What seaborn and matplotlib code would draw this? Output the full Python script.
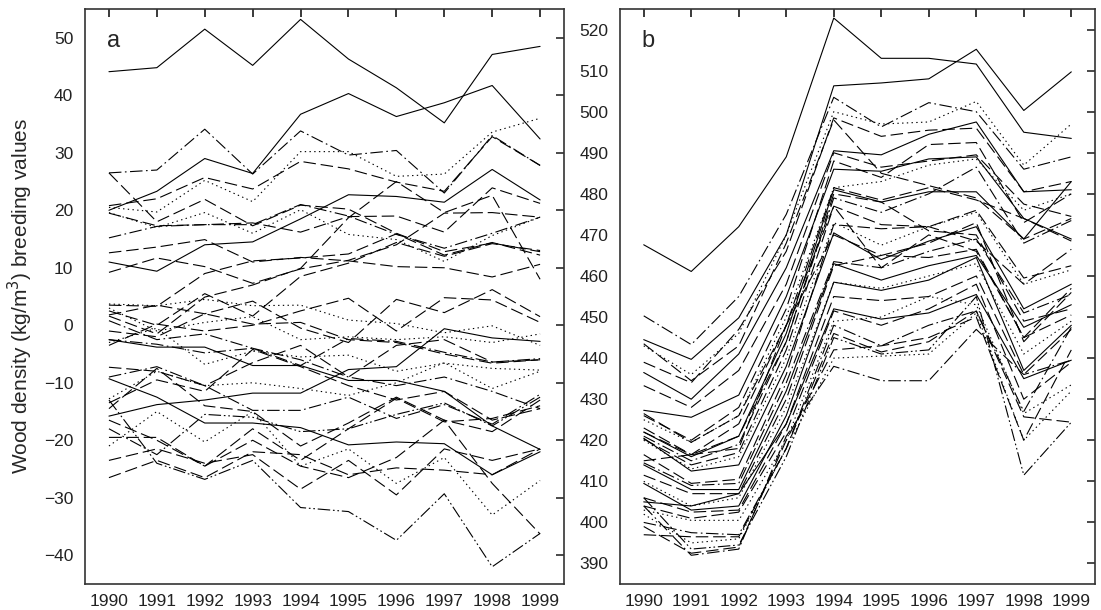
import matplotlib

matplotlib.use("Agg")

import matplotlib.pyplot as plt
import pandas as pd
import seaborn as sns

YEARS = list(range(1990, 2000))

# panel a: breeding values, one row per tree (style, 1990..1999)
PANEL_A = [
    ("solid", [44.1, 44.8, 51.5, 45.2, 53.2, 46.3, 41.3, 35.2, 47.1, 48.5]),
    ("solid", [20.0, 23.3, 29.0, 26.4, 36.7, 40.3, 36.3, 38.7, 41.7, 32.4]),
    ("solid", [11.0, 9.4, 14.0, 14.5, 18.5, 22.7, 22.4, 21.4, 27.1, 21.8]),
    ("dashdot", [26.5, 27.0, 34.1, 26.3, 33.8, 29.6, 30.4, 23.0, 33.0, 27.8]),
    ("dotted", [20.5, 19.7, 25.2, 21.5, 30.2, 30.2, 25.9, 26.3, 33.6, 36.0]),
    ("dashed", [26.5, 18.0, 21.9, 17.3, 20.9, 20.2, 16.0, 12.8, 14.3, 12.8]),
    ("dashed", [20.8, 22.0, 25.7, 23.7, 28.5, 27.2, 24.9, 23.3, 32.8, 27.8]),
    ("dashed", [19.5, 17.3, 17.5, 17.8, 16.2, 18.9, 19.0, 16.2, 23.9, 21.2]),
    ("dashdot", [15.2, 17.2, 17.5, 17.5, 21.0, 19.0, 15.8, 13.4, 16.0, 18.8]),
    ("dashed", [12.6, 13.6, 14.9, 11.0, 11.8, 11.2, 10.2, 10.0, 8.4, 10.6]),
    ("dashed", [9.2, 11.7, 10.2, 7.3, 9.8, 11.3, 14.0, 19.5, 19.6, 18.8]),
    ("dotted", [19.6, 17.0, 19.6, 16.0, 20.1, 15.8, 14.9, 11.1, 15.6, 18.8]),
    ("dashed", [3.5, 3.3, 9.0, 11.2, 11.7, 12.4, 15.9, 12.2, 14.4, 12.2]),
    ("dotted", [3.7, 3.4, 4.5, 3.4, 3.5, 0.9, 0.3, -1.3, -0.1, -3.5]),
    ("dashed", [1.6, -1.5, 4.9, 7.0, 9.9, 18.7, 25.0, 19.6, 22.6, 8.0]),
    ("dashed", [2.5, 0.0, 5.5, 1.6, 8.5, 10.8, 14.4, 12.0, 14.2, 13.0]),
    ("dashdot", [-2.5, -3.3, -4.8, -4.0, -7.0, -2.3, -2.8, -4.7, -6.4, -5.8]),
    ("solid", [-2.5, -3.8, -3.8, -7.0, -7.0, -9.6, -9.6, -11.5, -17.5, -21.6]),
    ("solid", [-15.8, -13.8, -13.0, -11.8, -11.8, -7.7, -7.2, -0.6, -2.2, -2.8]),
    ("solid", [-9.3, -12.5, -17.0, -17.0, -17.8, -20.8, -20.3, -20.6, -26.0, -22.0]),
    ("dashed", [-7.3, -8.0, -10.5, -6.5, -3.5, -9.0, -3.5, -2.5, -6.4, -6.0]),
    ("dashed", [-1.0, -2.0, 2.0, 0.2, 0.5, -2.5, -3.0, -5.0, -6.6, -6.0]),
    ("dashed", [-3.5, 0.2, -1.0, 0.0, 2.5, 4.7, -1.0, 4.8, 4.4, 0.5]),
    ("dotted", [-3.0, -0.5, -6.8, -4.5, -5.5, -5.2, -8.0, -6.6, -7.5, -7.8]),
    ("dashdot", [-9.0, -7.2, -10.5, -14.8, -14.8, -12.5, -16.2, -13.8, -17.2, -12.0]),
    ("dashed", [-13.5, -9.5, -11.5, -4.2, -7.2, -10.5, -13.0, -11.5, -16.5, -14.5]),
    ("dotted", [-12.8, -8.0, -10.5, -10.0, -11.0, -12.2, -10.0, -6.5, -11.0, -8.0]),
    ("dashed", [-14.5, -7.5, -14.0, -15.0, -21.0, -17.0, -12.5, -16.5, -18.5, -13.0]),
    ("dashdotdot", [-18.0, -22.5, -15.5, -16.0, -18.5, -18.0, -15.5, -13.5, -17.5, -12.5]),
    ("dotted", [-21.0, -15.0, -20.3, -15.0, -24.5, -21.5, -27.5, -23.0, -33.0, -27.0]),
    ("dashed", [-19.5, -19.5, -24.5, -20.0, -24.5, -26.5, -23.0, -16.5, -27.5, -36.3]),
    ("dashed", [-23.5, -21.5, -24.0, -22.5, -28.5, -23.5, -29.5, -21.5, -23.5, -21.5]),
    ("dashed", [-26.5, -23.5, -26.5, -22.0, -22.5, -26.0, -24.8, -25.2, -26.0, -21.5]),
    ("dashdotdot", [-13.0, -24.0, -26.8, -23.5, -31.7, -32.4, -37.4, -29.3, -42.0, -36.2]),
    ("dashed", [-16.5, -20.0, -24.5, -18.0, -23.5, -18.0, -12.7, -16.8, -16.2, -14.0]),
    ("dashed", [1.8, 3.5, 2.0, 4.2, -0.5, -3.0, 4.5, 2.2, 6.2, 1.5]),
    ("dashdot", [0.8, -2.5, -1.5, -4.0, -6.0, -9.0, -10.5, -9.0, -11.5, -14.5]),
    ("dotted", [3.0, -1.0, 0.5, 1.5, -2.5, -2.0, -2.5, -2.0, -3.0, -1.5]),
]

# panel b: wood density values
PANEL_B = [
    ("solid", [467.6, 461.1, 472.0, 489.0, 522.8, 513.0, 513.0, 511.6, 495.0, 493.5]),
    ("solid", [444.5, 439.7, 449.8, 470.0, 506.3, 507.0, 508.0, 515.2, 500.3, 509.7]),
    ("dashdot", [450.3, 443.3, 455.0, 475.0, 503.5, 496.3, 502.2, 500.0, 486.0, 489.0]),
    ("dotted", [443.0, 436.0, 446.0, 470.0, 500.0, 497.0, 497.5, 502.5, 487.0, 497.0]),
    ("dashed", [439.0, 434.0, 447.0, 466.0, 498.5, 494.0, 495.5, 496.0, 480.5, 483.0]),
    ("solid", [436.5, 430.0, 441.0, 462.0, 490.5, 489.5, 494.5, 497.5, 480.5, 481.0]),
    ("dashed", [433.3, 428.0, 437.0, 458.0, 490.0, 486.5, 488.0, 489.5, 477.5, 474.5]),
    ("solid", [427.3, 425.6, 431.0, 455.0, 486.0, 485.5, 488.5, 489.0, 474.0, 469.0]),
    ("dashed", [426.0, 420.0, 428.0, 452.0, 488.0, 484.0, 492.0, 492.5, 473.0, 480.0]),
    ("dotted", [425.0, 419.5, 426.0, 450.0, 481.5, 483.0, 487.0, 488.5, 476.0, 480.0]),
    ("dashed", [423.0, 416.5, 424.0, 448.0, 481.5, 478.5, 481.5, 478.5, 474.0, 468.5]),
    ("solid", [422.0, 416.0, 421.0, 446.0, 481.0, 478.0, 480.5, 480.5, 469.0, 483.0]),
    ("dashdot", [421.0, 415.0, 419.0, 444.0, 479.0, 475.5, 480.0, 486.5, 468.0, 473.5]),
    ("dashed", [420.3, 414.0, 417.0, 442.0, 477.0, 472.5, 472.0, 476.0, 459.5, 462.5]),
    ("dotted", [420.0, 413.0, 416.0, 440.0, 473.0, 467.5, 472.0, 475.5, 458.0, 461.5]),
    ("solid", [420.5, 412.5, 414.0, 438.0, 470.5, 464.0, 468.5, 472.0, 452.0, 458.0]),
    ("dashed", [416.5, 409.5, 410.5, 436.0, 472.5, 471.5, 472.0, 468.5, 458.0, 466.5]),
    ("dashdot", [414.5, 409.0, 409.5, 434.0, 463.5, 462.0, 466.0, 469.0, 451.0, 455.5]),
    ("solid", [414.0, 408.0, 408.0, 432.0, 463.0, 459.0, 462.5, 465.0, 447.5, 453.0]),
    ("dashed", [411.5, 407.0, 407.0, 430.0, 462.5, 465.0, 464.5, 466.5, 445.0, 450.5]),
    ("dotted", [410.0, 404.0, 406.0, 428.0, 458.5, 457.0, 460.0, 463.0, 441.0, 449.0]),
    ("solid", [409.5, 403.0, 404.0, 426.0, 458.5, 456.5, 459.0, 464.5, 437.0, 448.0]),
    ("dashed", [406.0, 402.5, 403.0, 424.0, 455.0, 454.0, 455.0, 460.0, 436.0, 447.0]),
    ("solid", [405.0, 404.0, 407.0, 424.0, 452.0, 449.5, 451.0, 455.5, 435.0, 439.5]),
    ("dashed", [404.0, 401.0, 402.5, 422.0, 451.5, 448.0, 452.0, 458.0, 430.0, 439.0]),
    ("dotted", [403.0, 400.5, 400.5, 420.0, 449.0, 450.0, 455.0, 453.0, 426.5, 433.5]),
    ("dashdot", [400.0, 397.5, 397.0, 418.0, 448.0, 443.0, 448.0, 451.5, 427.0, 447.5]),
    ("dashed", [397.0, 396.5, 396.5, 418.0, 446.0, 441.5, 444.0, 451.5, 425.7, 424.4]),
    ("dashdotdot", [406.0, 393.5, 394.5, 416.0, 445.0, 441.0, 442.0, 455.0, 411.5, 424.4]),
    ("dashed", [399.0, 392.5, 394.0, 420.0, 442.0, 443.0, 445.0, 450.0, 420.0, 442.0]),
    ("dashdot", [404.0, 392.0, 393.5, 421.0, 438.0, 434.5, 434.5, 447.0, 436.0, 439.5]),
    ("dotted", [402.0, 395.0, 396.0, 418.0, 440.0, 440.5, 441.0, 451.0, 420.0, 432.0]),
    ("dashed", [426.5, 419.5, 426.0, 448.0, 470.0, 465.0, 468.0, 473.0, 444.0, 456.0]),
    ("dashed", [415.0, 416.5, 421.0, 444.0, 480.0, 478.0, 471.0, 470.0, 449.0, 452.0]),
    ("dashed", [422.0, 416.5, 418.0, 448.0, 477.0, 462.0, 470.0, 466.0, 445.0, 457.0]),
    ("dashed", [443.5, 434.5, 443.0, 468.0, 498.0, 485.0, 482.0, 479.0, 469.0, 474.0]),
]

DASHES = {
    "solid": "",
    "dashed": (9, 3.5),
    "dashdot": (9, 2.5, 1.2, 2.5),
    "dashdotdot": (9, 2, 1.2, 2, 1.2, 2),
    "dotted": (1, 2.4),
}


def to_long(rows):
    records = []
    for i, (kind, values) in enumerate(rows):
        for year, value in zip(YEARS, values):
            records.append({"line": i, "kind": kind, "year": year, "value": value})
    return pd.DataFrame(records)


def style_axis(ax, ylim, yticks, label):
    ax.set_xlim(1989.5, 1999.5)
    ax.set_ylim(*ylim)
    ax.set_xticks(YEARS)
    ax.set_yticks(yticks)
    ax.set_xlabel("")
    ax.set_ylabel("")
    ax.tick_params(axis="x", direction="in", top=True, length=6, labelsize=12.5,
                   pad=7, colors="#222222")
    ax.tick_params(axis="y", direction="inout", right=False, length=10,
                   labelsize=12.5, colors="#222222")
    for spine in ax.spines.values():
        spine.set_visible(True)
        spine.set_linewidth(1.2)
        spine.set_color("#333333")
    # inward ticks on the right spine
    sec = ax.secondary_yaxis("right")
    sec.set_yticks(yticks)
    sec.tick_params(direction="in", length=6, labelright=False, colors="#333333")
    sec.spines["right"].set_visible(False)
    ax.text(0.045, 0.945, label, transform=ax.transAxes, fontsize=17,
            ha="left", va="center")


def main() -> None:
    sns.set_theme(style="white")
    plt.rcParams["font.family"] = ["Liberation Sans", "DejaVu Sans"]
    plt.rcParams["lines.scale_dashes"] = False

    fig = plt.figure(figsize=(11.01, 6.10), dpi=100)
    ax_a = fig.add_axes([0.0772, 0.0426, 0.4351, 0.9426])
    ax_b = fig.add_axes([0.5631, 0.0426, 0.4315, 0.9426])

    for ax, rows in ((ax_a, PANEL_A), (ax_b, PANEL_B)):
        sns.lineplot(
            data=to_long(rows), x="year", y="value", units="line",
            estimator=None, style="kind", dashes=DASHES, color="black",
            linewidth=0.8, legend=False, ax=ax,
        )

    style_axis(ax_a, (-45, 55), list(range(-40, 51, 10)), "a")
    style_axis(ax_b, (385, 525), list(range(390, 521, 10)), "b")
    ax_a.set_ylabel("Wood density (kg/m$^3$) breeding values", fontsize=15, labelpad=6)

    fig.savefig("out.png", dpi=100)
    plt.close(fig)


if __name__ == "__main__":
    main()
